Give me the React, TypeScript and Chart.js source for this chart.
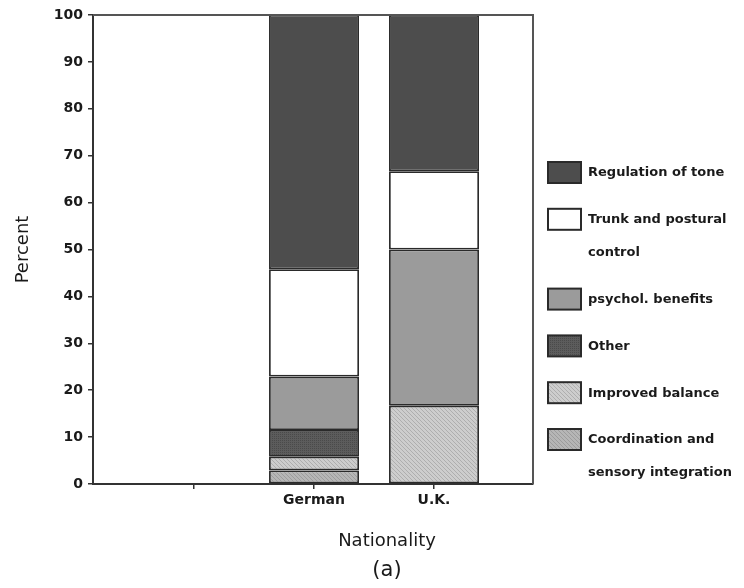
import React, { useEffect, useRef } from 'react';
import { Chart, registerables } from 'chart.js';

Chart.register(...registerables);

// ---- data ----
const categories = ['', 'German', 'U.K.'];
const coordination = [null, 2.9, null];
const improvedBalance = [null, 2.9, 16.7];
const other = [null, 5.7, null];
const psychol = [null, 11.4, 33.3];
const trunk = [null, 22.9, 16.7];
const regulation = [null, 54.3, 33.3];
const yTicks = [0, 10, 20, 30, 40, 50, 60, 70, 80, 90, 100];

const FONT = '"DejaVu Sans", "Liberation Sans", sans-serif';

function makePattern(base: string, dot: string, kind: 'cross' | 'diag') {
  const c = document.createElement('canvas');
  c.width = 4;
  c.height = 4;
  const g = c.getContext('2d')!;
  g.fillStyle = base;
  g.fillRect(0, 0, 4, 4);
  g.fillStyle = dot;
  if (kind === 'cross') {
    g.fillRect(0, 0, 1, 1);
    g.fillRect(2, 2, 1, 1);
    g.fillRect(2, 0, 1, 1);
    g.fillRect(0, 2, 1, 1);
  } else {
    g.fillRect(0, 0, 1, 1);
    g.fillRect(1, 1, 1, 1);
    g.fillRect(2, 2, 1, 1);
    g.fillRect(3, 3, 1, 1);
  }
  const p = g.createPattern(c, 'repeat');
  return p || base;
}

const sideLegend = {
  id: 'sideLegend',
  afterDraw(chart: any) {
    const ctx = chart.ctx;
    const ds = chart.data.datasets.slice().reverse();
    let y = 162;
    ctx.save();
    ds.forEach((d: any) => {
      const lines: string[] = d.legendLines;
      ctx.fillStyle = d.backgroundColor;
      ctx.fillRect(548, y, 33, 21);
      ctx.lineWidth = 2;
      ctx.strokeStyle = '#2a2a2a';
      ctx.strokeRect(548, y, 33, 21);
      ctx.fillStyle = '#1a1a1a';
      ctx.font = 'bold 13px ' + FONT;
      ctx.textBaseline = 'middle';
      ctx.textAlign = 'left';
      lines.forEach((t, i) => ctx.fillText(t, 588, y + 11 + i * 33));
      y += 46.8 + (lines.length - 1) * 33;
    });
    ctx.restore();
  },
};

const frameAndTitles = {
  id: 'frameAndTitles',
  afterDraw(chart: any) {
    const ctx = chart.ctx;
    const a = chart.chartArea;
    ctx.save();
    ctx.strokeStyle = '#555';
    ctx.lineWidth = 2;
    ctx.beginPath();
    ctx.moveTo(a.left, a.top);
    ctx.lineTo(a.right, a.top);
    ctx.lineTo(a.right, a.bottom);
    ctx.stroke();
    ctx.fillStyle = '#1a1a1a';
    ctx.textAlign = 'center';
    ctx.textBaseline = 'middle';
    ctx.font = '18px ' + FONT;
    ctx.fillText('Nationality', 387, 541);
    ctx.font = '21px ' + FONT;
    ctx.fillText('(a)', 387, 571);
    ctx.restore();
  },
};

export default function App() {
  const ref = useRef<HTMLCanvasElement | null>(null);

  useEffect(() => {
    document.body.style.margin = '0';
    const canvas = ref.current;
    if (!canvas) return;

    const toXY = (arr: (number | null)[]) => categories.map((_, i) => ({ x: i, y: arr[i] }));
    const border = '#2a2a2a';
    const mk = (label: string[], arr: (number | null)[], bg: any) => ({
      label: label.join(' '),
      legendLines: label,
      data: toXY(arr),
      backgroundColor: bg,
      borderColor: border,
      borderWidth: 1.8,
      borderSkipped: false,
      barPercentage: 0.75,
      categoryPercentage: 1,
    });

    const chart = new Chart(canvas, {
      type: 'bar',
      data: {
        datasets: [
          mk(['Coordination and', 'sensory integration'], coordination, makePattern('#b6b6b6', '#9c9c9c', 'diag')),
          mk(['Improved balance'], improvedBalance, makePattern('#cdcdcd', '#aeaeae', 'diag')),
          mk(['Other'], other, makePattern('#5c5c5c', '#4a4a4a', 'cross')),
          mk(['psychol. benefits'], psychol, '#9b9b9b'),
          mk(['Trunk and postural', 'control'], trunk, '#ffffff'),
          mk(['Regulation of tone'], regulation, '#4d4d4d'),
        ] as any,
      },
      options: {
        animation: false,
        responsive: true,
        maintainAspectRatio: false,
        layout: { padding: { left: 0, right: 211, top: 15, bottom: 0 } },
        plugins: {
          legend: { display: false },
          tooltip: { enabled: false },
        },
        scales: {
          x: {
            type: 'linear',
            stacked: true,
            offset: false,
            min: -0.842,
            max: 2.825,
            afterBuildTicks: (s: any) => {
              s.ticks = categories.map((_, i) => ({ value: i }));
            },
            afterFit: (s: any) => {
              s.height = 104;
            },
            ticks: {
              autoSkip: false,
              maxRotation: 0,
              padding: 3,
              color: '#1a1a1a',
              font: { family: FONT, size: 14, weight: 'bold' },
              callback: (v: any) => categories[v] ?? '',
            },
            grid: { offset: false, drawOnChartArea: false, drawTicks: true, tickLength: 5, color: '#333', lineWidth: 1.5 },
            border: { display: true, color: '#333', width: 2 },
          },
          y: {
            stacked: true,
            min: 0,
            max: 100,
            afterBuildTicks: (s: any) => {
              s.ticks = yTicks.map((v) => ({ value: v }));
            },
            afterFit: (s: any) => {
              s.width = 93;
            },
            ticks: {
              padding: 5,
              color: '#1a1a1a',
              font: { family: FONT, size: 14, weight: 'bold' },
            },
            title: {
              display: true,
              text: 'Percent',
              color: '#1a1a1a',
              font: { family: FONT, size: 18 },
              padding: { top: 13, bottom: 0 },
            },
            grid: { drawOnChartArea: false, drawTicks: true, tickLength: 5, color: '#333', lineWidth: 1.5 },
            border: { display: true, color: '#333', width: 2 },
          },
        },
      } as any,
      plugins: [sideLegend, frameAndTitles],
    });

    return () => chart.destroy();
  }, []);

  return (
    <div style={{ position: 'relative', width: 744, height: 588, background: '#fff' }}>
      <canvas ref={ref} />
    </div>
  );
}
